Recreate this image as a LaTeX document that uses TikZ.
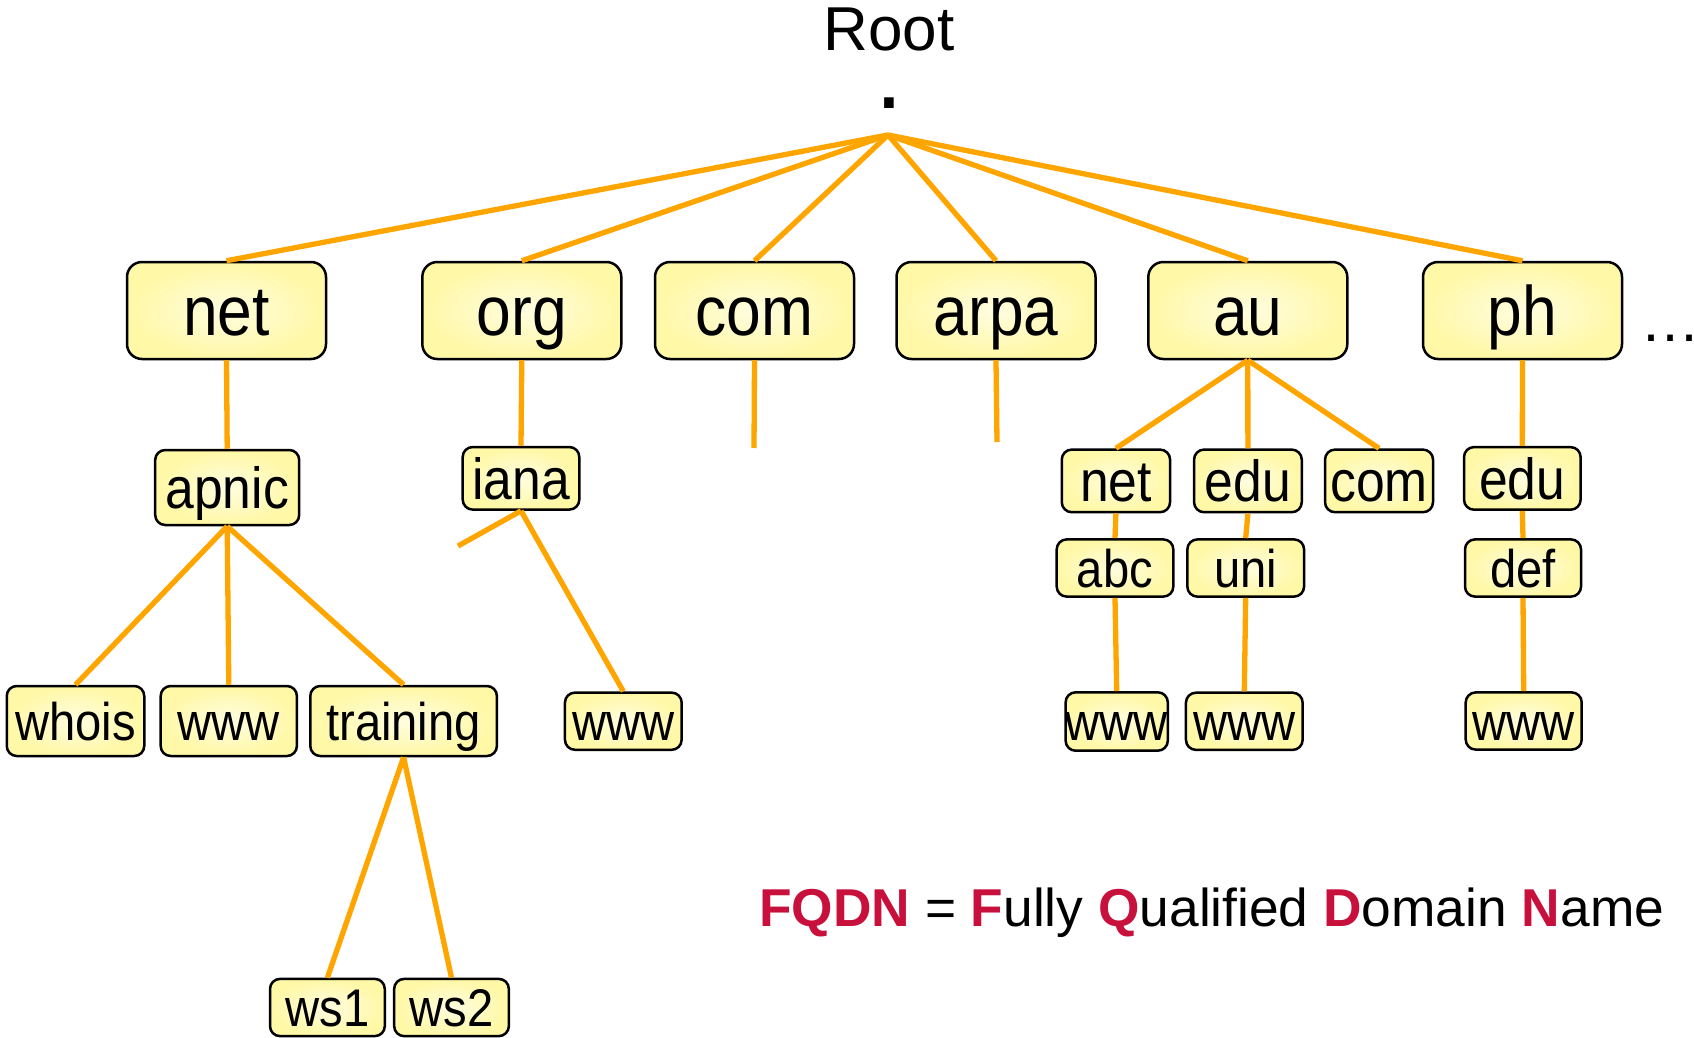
\documentclass[tikz,border=0pt]{standalone}
\usepackage{fontspec}
\setmainfont{Liberation Sans}
\newfontfamily\boxfont{Liberation Sans}[FakeStretch=0.89]
\usetikzlibrary{positioning}
\definecolor{cLine}{HTML}{FFA500}
\definecolor{cBoxIn}{HTML}{FFFDE0}
\definecolor{cBoxOut}{HTML}{FFF8A6}
\definecolor{cRed}{HTML}{C8103C}
\tikzset{
  dnsbox/.style={
    draw=black, line width=2.5pt, rounded corners=#1,
    inner color=cBoxIn, outer color=cBoxOut,
    inner sep=0pt,
  },
  dnsbox/.default=10pt,
  tldbox/.style={
    dnsbox=15pt, minimum width=199pt, minimum height=97pt,
    font=\boxfont\fontsize{70}{70}\selectfont,
    text height=63pt, text depth=12.6pt,
  },
  subbox/.style={
    dnsbox, font=\boxfont\fontsize{58}{58}\selectfont,
    text height=52.2pt, text depth=10.4pt,
  },
  hostbox/.style={
    dnsbox, font=\boxfont\fontsize{53}{53}\selectfont,
    text height=47.7pt, text depth=9.5pt,
  },
  link/.style={draw=cLine, line width=5.3pt},
}

\begin{document}
\begin{tikzpicture}[x=1pt, y=-1pt]
  \useasboundingbox (0,0) rectangle (1694,1038);

  % Root
  \node[font=\fontsize{62}{62}\selectfont, anchor=base, inner sep=0pt]
    (root) at (889,50.7) {Root};
  \node[font=\fontsize{100}{100}\selectfont, anchor=base, inner sep=0pt,
        text height=11pt, text depth=0pt]
    (rootdot) at (889,108.5) {.};
  \coordinate (apex) at (888,135);

  % Top-level domains
  \node[tldbox] (net)  at (226.5,310.5)  {net};
  \node[tldbox] (org)  at (521.8,310.5)  {org};
  \node[tldbox] (com)  at (754.5,310.5)  {com};
  \node[tldbox] (arpa) at (996,310.5)    {arpa};
  \node[tldbox] (au)   at (1247.8,310.5) {au};
  \node[tldbox] (ph)   at (1522.5,310.5) {ph};
  \node[font=\fontsize{60}{60}\selectfont, anchor=base west, inner sep=0pt]
    (more) at (1640,341) {…};

  % Second level
  \node[subbox, minimum width=144pt, minimum height=75pt]     (apnic) at (227.2,487.5)  {apnic};
  \node[subbox, minimum width=116.6pt, minimum height=55.3pt] (iana)  at (521,478.3)    {iana};
  \node[subbox, minimum width=108.3pt, minimum height=61.7pt] (aunet) at (1115.9,480.9) {net};
  \node[subbox, minimum width=107.7pt, minimum height=61.7pt] (auedu) at (1247.9,480.9) {edu};
  \node[subbox, minimum width=108pt, minimum height=61.7pt]   (aucom) at (1379,480.9)   {com};
  \node[subbox, minimum width=116.6pt, minimum height=56.7pt] (phedu) at (1522.3,478.4) {edu};

  % Third level
  \node[hostbox, minimum width=116.6pt, minimum height=56pt] (abc) at (1115,568)   {abc};
  \node[hostbox, minimum width=116.7pt, minimum height=56pt] (uni) at (1245.7,568) {uni};
  \node[hostbox, minimum width=116pt, minimum height=56pt]   (def) at (1523,568)   {def};

  % Hosts
  \node[hostbox, minimum width=137.5pt, minimum height=70pt]   (whois)    at (75.5,721)     {whois};
  \node[hostbox, minimum width=136.2pt, minimum height=70pt]   (wwwapnic) at (228.8,721)    {www};
  \node[hostbox, minimum width=186.6pt, minimum height=70pt]   (training) at (403.6,721)    {training};
  \node[hostbox, minimum width=116.7pt, minimum height=54.3pt] (wwwiana)  at (623.3,721.2)  {www};
  \node[hostbox, minimum width=101.3pt, minimum height=58.4pt] (wwwabc)   at (1116.7,721.5) {www};
  \node[hostbox, minimum width=116.7pt, minimum height=56pt]   (wwwuni)   at (1244.3,721.3) {www};
  \node[hostbox, minimum width=116pt, minimum height=56pt]     (wwwdef)   at (1523.7,721)   {www};
  \node[hostbox, minimum width=114.8pt, minimum height=55pt]   (ws1)      at (327.4,1007.5) {ws1};
  \node[hostbox, minimum width=114.7pt, minimum height=55pt]   (ws2)      at (451.5,1007.5) {ws2};

  % Open branches
  \coordinate (comstub)  at (754,448);
  \coordinate (arpastub) at (997,442);
  \coordinate (ianastub) at (458,546);

  % Links
  \foreach \tld in {net,org,com,arpa,au,ph}
    \draw[link] (apex) -- (\tld.north);
  \draw[link] (net.south) -- (apnic.north);
  \draw[link] (org.south) -- (iana.north);
  \draw[link] (com.south) -- (comstub);
  \draw[link] (arpa.south) -- (arpastub);
  \foreach \sub in {aunet,auedu,aucom}
    \draw[link] (au.south) -- (\sub.north);
  \draw[link] (ph.south) -- (phedu.north);
  \foreach \host in {whois,wwwapnic,training}
    \draw[link] (apnic.south) -- (\host.north);
  \draw[link] (iana.south) -- (ianastub);
  \draw[link] (iana.south) -- (wwwiana.north);
  \draw[link] (aunet.south) -- (abc.north);
  \draw[link] (auedu.south) -- (uni.north);
  \draw[link] (phedu.south) -- (def.north);
  \draw[link] (abc.south) -- (wwwabc.north);
  \draw[link] (uni.south) -- (wwwuni.north);
  \draw[link] (def.south) -- (wwwdef.north);
  \draw[link] (training.south) -- (ws1.north);
  \draw[link] (training.south) -- (ws2.north);

  % Footnote
  \node[font=\fontsize{53.3}{53.3}\selectfont, anchor=base west, inner sep=0pt]
    (fqdn) at (759,926) {\textcolor{cRed}{\textbf{FQDN}} = \textcolor{cRed}{\textbf{F}}ully
    \textcolor{cRed}{\textbf{Q}}ualified \textcolor{cRed}{\textbf{D}}omain
    \textcolor{cRed}{\textbf{N}}ame};

\end{tikzpicture}
\end{document}
